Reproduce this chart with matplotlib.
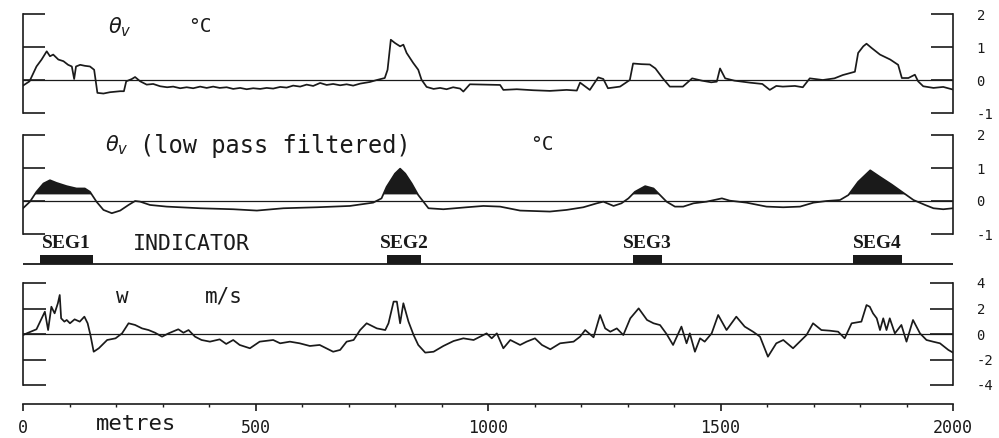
import matplotlib
matplotlib.use('Agg')
import matplotlib.pyplot as plt

plt.rcParams['axes.unicode_minus'] = False

W, H = 999, 438
INK = '#1a1a1a'

# ---------------- data ----------------
theta_m = [0, 14, 29, 40, 51, 58, 65, 76, 87, 97, 105, 110, 114, 123, 133, 144, 153, 160, 173, 187,
           209, 217, 222, 234, 241, 252, 266, 280, 295, 310, 323, 338, 352, 366, 381, 395, 409, 423,
           438, 452, 467, 481, 495, 510, 524, 538, 553, 567, 581, 596, 610, 624, 639, 653, 667, 682,
           696, 710, 725, 746, 761, 778, 784, 791, 800, 811, 818, 825, 839, 850, 857, 868, 883, 897,
           911, 925, 940, 947, 961, 990, 1026, 1033, 1062, 1097, 1133, 1169, 1191, 1198, 1219, 1237,
           1248, 1258, 1284, 1305, 1312, 1330, 1348, 1360, 1376, 1391, 1419, 1439, 1460, 1480, 1492,
           1499, 1510, 1530, 1563, 1590, 1606, 1620, 1634, 1660, 1677, 1692, 1720, 1745, 1763, 1789,
           1796, 1807, 1814, 1825, 1843, 1865, 1882, 1890, 1904, 1918, 1925, 1936, 1958, 1979, 2000]
theta_v = [-0.17, -0.04, 0.41, 0.62, 0.87, 0.72, 0.77, 0.62, 0.57, 0.46, 0.41, 0.03, 0.41, 0.46, 0.43,
           0.41, 0.31, -0.39, -0.41, -0.37, -0.34, -0.34, -0.04, 0.03, 0.09, -0.04, -0.14, -0.12,
           -0.19, -0.22, -0.20, -0.25, -0.22, -0.25, -0.20, -0.24, -0.20, -0.24, -0.22, -0.27, -0.24,
           -0.28, -0.25, -0.27, -0.24, -0.26, -0.21, -0.23, -0.17, -0.20, -0.14, -0.18, -0.09, -0.15,
           -0.12, -0.16, -0.13, -0.17, -0.11, -0.06, 0.0, 0.06, 0.31, 1.22, 1.12, 1.02, 1.07, 0.82,
           0.52, 0.31, 0.01, -0.21, -0.27, -0.24, -0.28, -0.22, -0.26, -0.35, -0.13, -0.14, -0.15,
           -0.30, -0.28, -0.31, -0.33, -0.30, -0.32, -0.08, -0.30, 0.08, 0.03, -0.25, -0.20, 0.0, 0.50,
           0.48, 0.47, 0.35, 0.05, -0.20, -0.20, 0.05, -0.02, -0.07, -0.05, 0.35, 0.05, -0.02, -0.08,
           -0.12, -0.30, -0.18, -0.20, -0.18, -0.22, 0.05, 0.0, 0.05, 0.15, 0.25, 0.82, 1.02, 1.10, 0.97,
           0.77, 0.62, 0.46, 0.06, 0.06, 0.16, -0.04, -0.19, -0.24, -0.21, -0.29]

lp_m = [0, 15, 29, 44, 58, 72, 94, 115, 133, 144, 158, 173, 191, 209, 227, 241, 252, 273, 309, 381,
        452, 503, 560, 632, 703, 753, 771, 782, 800, 811, 822, 836, 850, 861, 872, 904, 954, 990,
        1026, 1069, 1133, 1169, 1205, 1234, 1248, 1270, 1287, 1302, 1316, 1338, 1356, 1370, 1384,
        1402, 1420, 1442, 1470, 1503, 1520, 1556, 1599, 1635, 1671, 1700, 1728, 1757, 1775, 1796,
        1822, 1843, 1868, 1890, 1915, 1940, 1958, 1979, 2000]
lp_v = [-0.22, -0.02, 0.28, 0.53, 0.63, 0.55, 0.45, 0.38, 0.38, 0.28, -0.02, -0.27, -0.37, -0.29,
        -0.12, 0.0, -0.02, -0.12, -0.17, -0.22, -0.25, -0.29, -0.22, -0.19, -0.15, -0.05, 0.08, 0.43,
        0.83, 0.98, 0.83, 0.53, 0.18, -0.02, -0.22, -0.25, -0.19, -0.15, -0.17, -0.29, -0.32, -0.27,
        -0.19, -0.07, -0.02, -0.15, -0.07, 0.08, 0.28, 0.45, 0.38, 0.18, -0.02, -0.17, -0.17, -0.07,
        -0.02, 0.08, 0.01, -0.05, -0.17, -0.19, -0.17, -0.05, 0.0, 0.03, 0.18, 0.58, 0.93, 0.73, 0.50,
        0.28, 0.03, -0.12, -0.22, -0.25, -0.22]
lp_threshold = 0.2

w_m = [0, 8, 29, 47, 54, 61, 68, 75, 79, 82, 89, 94, 101, 111, 122, 132, 139, 145, 152, 163, 181,
       199, 213, 227, 241, 256, 270, 284, 299, 313, 334, 345, 356, 370, 384, 402, 423, 437, 452, 466,
       488, 509, 538, 553, 574, 595, 617, 638, 667, 682, 696, 711, 725, 739, 761, 779, 786, 797, 804,
       811, 818, 829, 840, 850, 865, 883, 904, 926, 947, 969, 983, 997, 1008, 1019, 1033, 1048, 1069,
       1083, 1101, 1116, 1134, 1155, 1184, 1198, 1209, 1227, 1241, 1252, 1263, 1277, 1291, 1306, 1324,
       1342, 1356, 1370, 1384, 1398, 1416, 1427, 1434, 1445, 1456, 1466, 1481, 1495, 1513, 1534, 1552,
       1570, 1585, 1602, 1620, 1635, 1656, 1674, 1685, 1699, 1717, 1735, 1753, 1767, 1782, 1803, 1814,
       1821, 1828, 1836, 1843, 1850, 1857, 1864, 1875, 1889, 1900, 1914, 1929, 1943, 1957, 1972, 1990,
       2000]
w_v = [-0.08, 0.05, 0.37, 1.75, 0.31, 2.14, 1.62, 2.41, 3.06, 1.23, 0.97, 1.10, 0.84, 1.15, 0.97,
       1.36, 0.84, -0.08, -1.39, -1.12, -0.47, -0.34, 0.05, 0.84, 0.71, 0.44, 0.31, 0.10, -0.21, 0.05,
       0.37, 0.10, 0.31, -0.21, -0.47, -0.60, -0.42, -0.78, -0.47, -0.86, -1.12, -0.60, -0.47, -0.73,
       -0.60, -0.73, -0.94, -0.86, -1.39, -1.25, -0.60, -0.47, 0.31, 0.84, 0.44, 0.31, 0.84, 2.54,
       2.54, 0.84, 2.41, 0.97, -0.08, -0.86, -1.46, -1.39, -0.94, -0.55, -0.34, -0.47, -0.21, 0.05,
       -0.34, 0.05, -1.12, -0.47, -0.86, -0.60, -0.34, -0.86, -1.20, -0.73, -0.60, -0.21, 0.31, -0.26,
       1.49, 0.44, 0.18, 0.44, -0.08, 1.23, 2.01, 1.10, 0.84, 0.70, 0.0, -0.86, 0.58, -0.73, 0.05,
       -1.39, -0.34, -0.60, 0.05, 1.49, 0.31, 1.36, 0.58, 0.18, -0.21, -1.78, -0.73, -0.47, -1.12,
       -0.47, -0.08, 0.84, 0.31, 0.26, 0.18, -0.34, 0.84, 0.97, 2.27, 2.14, 1.62, 1.23, 0.31, 1.23,
       0.31, 1.23, 0.05, 0.71, -0.60, 1.10, 0.05, -0.47, -0.60, -0.73, -1.25, -1.46]

seg_names = ['SEG1', 'SEG2', 'SEG3', 'SEG4']
seg_start = [37, 783, 1312, 1785]
seg_end = [150, 856, 1374, 1890]

theta_ticks = [2, 1, 0, -1]
w_ticks = [4, 2, 0, -2, -4]
x_major = [0, 500, 1000, 1500, 2000]
x_minor = list(range(0, 2001, 100))

# ---------------- layout helpers ----------------
X0, X1 = 23, 953


def rect(top, bottom):
    return [X0 / W, 1 - bottom / H, (X1 - X0) / W, (bottom - top) / H]


def ftext(x, y, s, **kw):
    kw.setdefault('color', INK)
    kw.setdefault('ha', 'center')
    kw.setdefault('va', 'center')
    fig.text(x / W, 1 - y / H, s, **kw)


fig = plt.figure(figsize=(W / 100, H / 100), dpi=100)
fig.patch.set_facecolor('white')


def panel(top, bottom, ylim, ticks, ticklen):
    ax = fig.add_axes(rect(top, bottom))
    ax.set_xlim(0, 2000)
    ax.set_ylim(*ylim)
    ax.patch.set_alpha(0)
    for s in ['top', 'bottom']:
        ax.spines[s].set_visible(False)
    for s in ['left', 'right']:
        ax.spines[s].set_color(INK)
        ax.spines[s].set_linewidth(1.2)
    ax.set_xticks([])
    ax.set_yticks(ticks)
    ax.tick_params(axis='y', direction='in', length=ticklen, width=1.2, color=INK,
                   left=True, right=True, labelleft=False, labelright=True,
                   pad=17, labelsize=10, labelcolor=INK, labelfontfamily='DejaVu Sans Mono')
    ax.axhline(0, color=INK, lw=0.9)
    return ax


# Panel 1: theta_v
ax1 = panel(14, 113, (-1, 2), theta_ticks, 15.5)
ax1.plot(theta_m, theta_v, color=INK, lw=1.25)

# Panel 2: low pass filtered theta_v
ax2 = panel(135, 234, (-1, 2), theta_ticks, 15.5)
ax2.plot(lp_m, lp_v, color=INK, lw=1.25)
ax2.fill_between(lp_m, lp_v, lp_threshold, where=[v > lp_threshold for v in lp_v],
                 interpolate=True, color=INK, lw=0)

# Indicator
axi = fig.add_axes(rect(234, 267))
axi.set_xlim(0, 2000)
axi.set_ylim(-0.1, 1.0)
axi.axis('off')
axi.axhline(0, color=INK, lw=1.3)
axi.bar(seg_start, 0.3, width=[e - s for s, e in zip(seg_start, seg_end)], bottom=0,
        align='edge', color=INK, lw=0)
for name, s, e in zip(seg_names, seg_start, seg_end):
    axi.text((s + e) / 2, 0.68, name, ha='center', va='center', color=INK,
             fontsize=14, fontweight='bold', family='Liberation Serif')
axi.text(362, 0.68, 'INDICATOR', ha='center', va='center', color=INK, fontsize=15.5,
         family='DejaVu Sans Mono')

# Panel 3: w
ax3 = panel(283, 385, (-4, 4), w_ticks, 16.5)
ax3.plot(w_m, w_v, color=INK, lw=1.25)

# Bottom distance axis
axx = fig.add_axes(rect(396, 404))
axx.set_xlim(0, 2000)
axx.patch.set_alpha(0)
for s in ['top', 'left', 'right']:
    axx.spines[s].set_visible(False)
axx.spines['bottom'].set_color(INK)
axx.spines['bottom'].set_linewidth(1.2)
axx.set_yticks([])
axx.set_xticks(x_major)
axx.set_xticks(x_minor, minor=True)
axx.tick_params(axis='x', which='major', direction='out', length=5, width=1.2, color=INK,
                pad=6, labelsize=12, labelcolor=INK, labelfontfamily='DejaVu Sans Mono')
axx.tick_params(axis='x', which='minor', direction='out', length=2.5, width=1.0, color=INK)

# Titles
ftext(120, 27, r'$\theta_v$', fontsize=15)
ftext(200, 27, '°C', fontsize=14, family='DejaVu Sans Mono')
ftext(117, 145, r'$\theta_v$', fontsize=15)
ftext(140, 146, '(low pass filtered)', fontsize=17, family='DejaVu Sans Mono', ha='left')
ftext(542, 144, '°C', fontsize=14, family='DejaVu Sans Mono')
ftext(122, 297, 'w', fontsize=15, family='DejaVu Sans Mono')
ftext(224, 297, 'm/s', fontsize=15, family='DejaVu Sans Mono')
ftext(136, 424, 'metres', fontsize=16, family='DejaVu Sans Mono')

fig.savefig('out.png', dpi=100, facecolor='white')
